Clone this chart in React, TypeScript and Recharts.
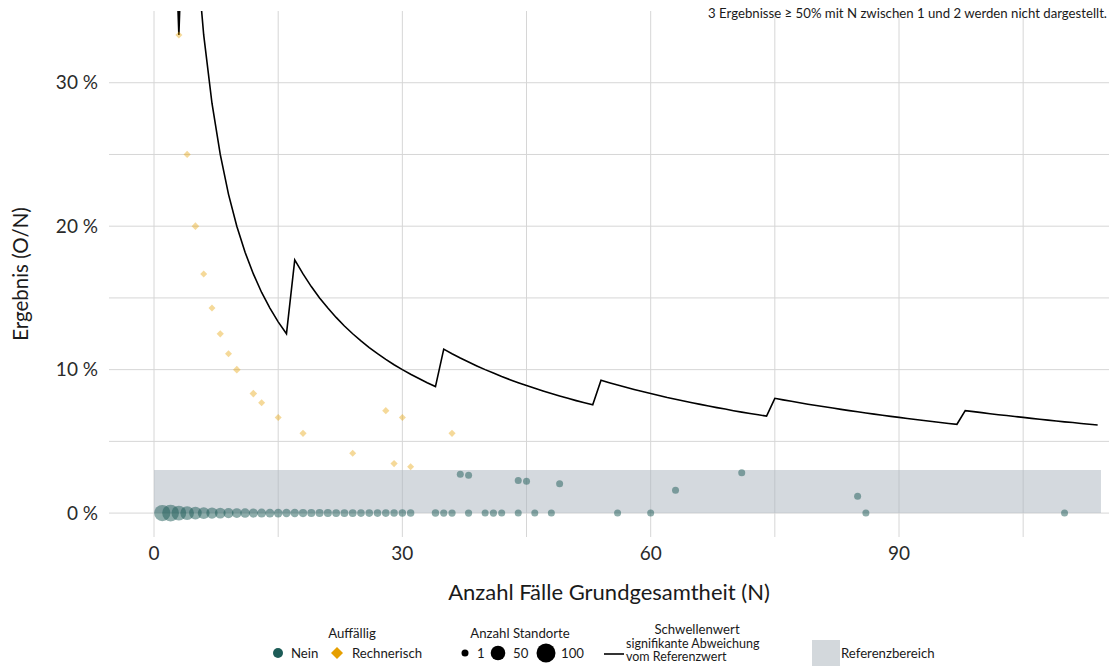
import {
  ComposedChart, Scatter, Line, XAxis, YAxis, ZAxis,
  CartesianGrid, ReferenceArea,
} from 'recharts'

// Schwellenwert (signifikante Abweichung), N = 1 … 114, in %
const schwelleWert = [
  100, 50, 33.33,
  50, 40, 33.33, 28.57, 25, 22.22, 20, 18.18, 16.67, 15.38, 14.29, 13.33, 12.5,
  17.65, 16.67, 15.79, 15, 14.29, 13.64, 13.04, 12.5, 12, 11.54, 11.11, 10.71, 10.34, 10, 9.68, 9.38, 9.09, 8.82,
  11.43, 11.11, 10.81, 10.53, 10.26, 10, 9.76, 9.52, 9.3, 9.09, 8.89, 8.7, 8.51, 8.33, 8.16, 8, 7.84, 7.69, 7.55,
  9.26, 9.09, 8.93, 8.77, 8.62, 8.47, 8.33, 8.2, 8.06, 7.94, 7.81, 7.69, 7.58, 7.46, 7.35, 7.25, 7.14, 7.04, 6.94, 6.85, 6.76,
  8, 7.89, 7.79, 7.69, 7.59, 7.5, 7.41, 7.32, 7.23, 7.14, 7.06, 6.98, 6.9, 6.82, 6.74, 6.67, 6.59, 6.52, 6.45, 6.38, 6.32, 6.25, 6.19,
  7.14, 7.07, 7, 6.93, 6.86, 6.8, 6.73, 6.67, 6.6, 6.54, 6.48, 6.42, 6.36, 6.31, 6.25, 6.19, 6.14,
]

// Auffällig: Nein
const neinN = [
  1, 2, 3, 4, 5, 6, 7, 8, 9, 10, 11, 12, 13, 14, 15, 16, 17, 18, 19, 20, 21, 22, 23, 24, 25, 26, 27, 28, 29, 30, 31,
  34, 35, 36, 38, 40, 41, 42, 44, 46, 48, 56, 60, 86, 110,
  37, 38, 44, 45, 49, 63, 71, 85,
]
const neinWert = [
  0, 0, 0, 0, 0, 0, 0, 0, 0, 0, 0, 0, 0, 0, 0, 0, 0, 0, 0, 0, 0, 0, 0, 0, 0, 0, 0, 0, 0, 0, 0,
  0, 0, 0, 0, 0, 0, 0, 0, 0, 0, 0, 0, 0, 0,
  2.7, 2.63, 2.27, 2.22, 2.04, 1.59, 2.82, 1.18,
]
const neinAnzahl = [
  70, 75, 55, 45, 36, 30, 26, 22, 18, 16, 14, 12, 11, 10, 9, 8, 8, 7, 6, 6, 6, 5, 5, 5, 4, 4, 4, 4, 3, 3, 3,
  3, 2, 2, 2, 1, 2, 1, 1, 1, 1, 1, 1, 1, 1,
  1, 1, 1, 1, 1, 1, 1, 1,
]

// Auffällig: Rechnerisch
const rechN = [3, 4, 5, 6, 7, 8, 9, 10, 12, 13, 15, 18, 24, 28, 29, 30, 31, 36]
const rechWert = [33.33, 25, 20, 16.67, 14.29, 12.5, 11.11, 10, 8.33, 7.69, 6.67, 5.56, 4.17, 7.14, 3.45, 6.67, 3.23, 5.56]
const rechAnzahl = [1, 2, 4, 1, 1, 2, 1, 4, 4, 1, 1, 2, 1, 2, 2, 1, 1, 2]

const xTicks = [0, 30, 60, 90]
const yTicks = [0, 10, 20, 30]
const xGrid = [0, 15, 30, 45, 60, 75, 90, 105]
const yGrid = [0, 5, 10, 15, 20, 25, 30]

const schwelle = schwelleWert.map((v, i) => ({ n: i + 1, v }))
const nein = neinN.map((n, i) => ({ n, v: neinWert[i], z: neinAnzahl[i] }))
const rech = rechN.map((n, i) => ({ n, v: rechWert[i], z: rechAnzahl[i] }))

const FONT = 'Lato, "Open Sans", sans-serif'
const GRUEN = '#1d5c57'
const ORANGE = '#e69f00'

function Kreis(props: any) {
  const { cx, cy, size } = props
  const r = Math.sqrt(size / Math.PI)
  return <circle cx={cx} cy={cy} r={r} fill={GRUEN} fillOpacity={0.5} />
}

function Raute(props: any) {
  const { cx, cy, size } = props
  const h = Math.sqrt(size / Math.PI)
  return (
    <polygon
      points={`${cx},${cy - h} ${cx + h},${cy} ${cx},${cy + h} ${cx - h},${cy}`}
      fill={ORANGE}
      fillOpacity={0.4}
    />
  )
}

function Legende() {
  const t = { fontFamily: FONT, fontSize: 13.2, fill: '#1a1a1a' }
  return (
    <svg width={1115} height={666} style={{ position: 'absolute', left: 0, top: 0, pointerEvents: 'none' }}>
      <text x={1107} y={18} textAnchor="end" {...t}>
        3 Ergebnisse ≥ 50% mit N zwischen 1 und 2 werden nicht dargestellt.
      </text>

      <text x={352} y={638} textAnchor="middle" {...t}>Auffällig</text>
      <circle cx={278} cy={653} r={5} fill={GRUEN} />
      <text x={291} y={658} {...t}>Nein</text>
      <polygon points="337,647 343,653 337,659 331,653" fill={ORANGE} />
      <text x={352} y={658} {...t}>Rechnerisch</text>

      <text x={520} y={638} textAnchor="middle" {...t}>Anzahl Standorte</text>
      <circle cx={465} cy={653} r={3.5} fill="#000" />
      <text x={477} y={658} {...t}>1</text>
      <circle cx={498} cy={653} r={7.3} fill="#000" />
      <text x={513} y={658} {...t}>50</text>
      <circle cx={546} cy={653} r={9.5} fill="#000" />
      <text x={561} y={658} {...t}>100</text>

      <text x={697} y={634} textAnchor="middle" {...t}>Schwellenwert</text>
      <line x1={604} x2={624} y1={654} y2={654} stroke="#000" strokeWidth={1.6} />
      <text x={626} y={648} {...t} fontSize={12.5}>signifikante Abweichung</text>
      <text x={626} y={661} {...t} fontSize={12.5}>vom Referenzwert</text>

      <rect x={812} y={640} width={28} height={28} fill="#d3d8dc" />
      <text x={841} y={658} {...t}>Referenzbereich</text>
    </svg>
  )
}

export default function App() {
  return (
    <div style={{ position: 'absolute', left: 0, top: 0, width: 1115, height: 666, background: '#fff', fontFamily: FONT }}>
      <ComposedChart width={1115} height={666} margin={{ top: 11, right: 6, bottom: 89, left: 0 }}>
        <CartesianGrid
          stroke="#d6d6d6"
          verticalValues={xGrid}
          horizontalValues={yGrid}
        />
        <XAxis
          type="number"
          dataKey="n"
          domain={[-5.44, 115.37]}
          allowDataOverflow
          ticks={xTicks}
          tickSize={0}
          tickMargin={10}
          axisLine={false}
          height={40}
          tick={{ fill: '#2a2a2a', fontSize: 19, fontFamily: FONT }}
        />
        <YAxis
          type="number"
          dataKey="v"
          domain={[-1.667, 35]}
          allowDataOverflow
          ticks={yTicks}
          tickFormatter={(v) => `${v} %`}
          tickSize={0}
          tickMargin={11}
          axisLine={false}
          width={109}
          tick={{ fill: '#2a2a2a', fontSize: 19, fontFamily: FONT }}
        />
        <ZAxis type="number" dataKey="z" domain={[1, 100]} range={[38.5, 283.5]} />
        <ReferenceArea x1={0} x2={114.4} y1={0} y2={3} fill="#a9b4bd" fillOpacity={0.5} stroke="none" />
        <Scatter data={nein} fill={GRUEN} shape={Kreis} isAnimationActive={false} />
        <Scatter data={rech} fill={ORANGE} shape={Raute} isAnimationActive={false} />
        <Line
          data={schwelle}
          dataKey="v"
          type="linear"
          stroke="#000"
          strokeWidth={1.6}
          dot={false}
          activeDot={false}
          isAnimationActive={false}
        />
      </ComposedChart>

      <div style={{
        position: 'absolute', left: 20, top: 274, transform: 'translate(-50%, -50%) rotate(-90deg)',
        fontSize: 20.5, color: '#1a1a1a', whiteSpace: 'nowrap',
      }}>
        Ergebnis (O/N)
      </div>
      <div style={{
        position: 'absolute', left: 609, top: 591, transform: 'translate(-50%, -50%)',
        fontSize: 22, color: '#1a1a1a', whiteSpace: 'nowrap',
      }}>
        Anzahl Fälle Grundgesamtheit (N)
      </div>
      <Legende />
    </div>
  )
}
